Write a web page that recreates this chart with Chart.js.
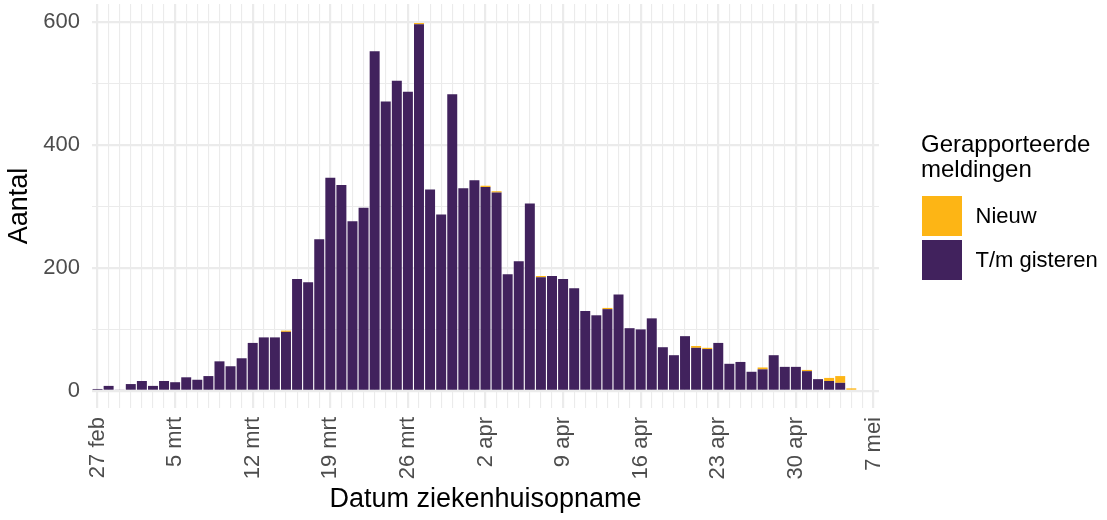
<!DOCTYPE html>
<html>
<head>
<meta charset="utf-8">
<script src="https://cdn.jsdelivr.net/npm/chart.js@4/dist/chart.umd.min.js"></script>
<style>
  body { margin: 0; background: #ffffff; }
  canvas { display: block; }
</style>
</head>
<body>
<canvas id="opnames" width="1107" height="520"></canvas>
<script>
// Dagen (27 feb t/m 7 mei)
var dagen = [
  "27 feb", "28 feb", "29 feb",
  "1 mrt", "2 mrt", "3 mrt", "4 mrt", "5 mrt", "6 mrt", "7 mrt", "8 mrt", "9 mrt", "10 mrt",
  "11 mrt", "12 mrt", "13 mrt", "14 mrt", "15 mrt", "16 mrt", "17 mrt", "18 mrt", "19 mrt", "20 mrt",
  "21 mrt", "22 mrt", "23 mrt", "24 mrt", "25 mrt", "26 mrt", "27 mrt", "28 mrt", "29 mrt", "30 mrt", "31 mrt",
  "1 apr", "2 apr", "3 apr", "4 apr", "5 apr", "6 apr", "7 apr", "8 apr", "9 apr", "10 apr",
  "11 apr", "12 apr", "13 apr", "14 apr", "15 apr", "16 apr", "17 apr", "18 apr", "19 apr", "20 apr",
  "21 apr", "22 apr", "23 apr", "24 apr", "25 apr", "26 apr", "27 apr", "28 apr", "29 apr", "30 apr",
  "1 mei", "2 mei", "3 mei", "4 mei", "5 mei", "6 mei", "7 mei"
];

// T/m gisteren gemelde opnames per dag
var tmGisteren = [
  3, 8, 2, 11, 16, 8, 16, 14, 22, 18,
  24, 48, 40, 53, 78, 87, 87, 96, 182, 177,
  247, 347, 335, 276, 298, 553, 471, 505, 487, 597,
  328, 287, 483, 330, 343, 332, 323, 190, 211, 305,
  185, 187, 182, 167, 130, 123, 133, 157, 102, 100,
  118, 71, 58, 89, 70, 68, 78, 44, 47, 31,
  35, 58, 39, 39, 32, 19, 16, 13, 0, null, null
];

// Nieuw gemelde opnames per dag
var nieuw = [
  0, 0, 0, 0, 0, 0, 0, 0, 0, 0,
  0, 0, 0, 0, 0, 0, 0, 2, 0, 0,
  0, 0, 0, 0, 0, 0, 0, 0, 0, 2,
  0, 0, 0, 0, 0, 2, 2, 0, 0, 0,
  2, 0, 0, 0, 0, 0, 2, 0, 0, 0,
  0, 0, 0, 0, 3, 2, 0, 0, 0, 0,
  3, 0, 0, 0, 2, 0, 5, 11, 4, null, null
];

var tickLabels = ["27 feb", "5 mrt", "12 mrt", "19 mrt", "26 mrt", "2 apr", "9 apr", "16 apr", "23 apr", "30 apr", "7 mei"];
var yGrid = [0, 100, 200, 300, 400, 500, 600];
var yLabels = [0, 200, 400, 600];

var paars = "#41225D";
var oranje = "#FDB515";
var gridKleur = "#EBEBEB";
var font = '"Liberation Sans", Arial, sans-serif';

// legenda rechts, zelf getekend
var legendaPlugin = {
  id: "legenda",
  afterDraw: function (chart) {
    var ctx = chart.ctx;
    ctx.save();
    ctx.fillStyle = "#000000";
    ctx.textBaseline = "alphabetic";
    ctx.textAlign = "left";
    ctx.font = "24px " + font;
    ctx.fillText("Gerapporteerde", 921, 152);
    ctx.fillText("meldingen", 921, 176.5);
    ctx.fillStyle = oranje;
    ctx.fillRect(922, 196, 40, 40);
    ctx.fillStyle = paars;
    ctx.fillRect(922, 240, 40, 40);
    ctx.fillStyle = "#000000";
    ctx.font = "22px " + font;
    ctx.fillText("Nieuw", 975.5, 223);
    ctx.fillText("T/m gisteren", 975.5, 267);
    ctx.restore();
  }
};

var chart = new Chart(document.getElementById("opnames"), {
  type: "bar",
  data: {
    labels: dagen,
    datasets: [
      {
        label: "T/m gisteren",
        data: tmGisteren,
        backgroundColor: paars,
        borderWidth: 0,
        categoryPercentage: 1,
        barPercentage: 0.9
      },
      {
        label: "Nieuw",
        data: nieuw,
        backgroundColor: oranje,
        borderWidth: 0,
        categoryPercentage: 1,
        barPercentage: 0.9
      }
    ]
  },
  options: {
    responsive: false,
    devicePixelRatio: 1,
    animation: false,
    layout: { padding: { top: 4, right: 228, bottom: 0, left: 0 } },
    plugins: {
      legend: { display: false },
      tooltip: { enabled: false }
    },
    scales: {
      x: {
        stacked: true,
        offset: true,
        border: { display: false },
        grid: {
          offset: false,
          drawTicks: false,
          color: gridKleur,
          lineWidth: function (c) {
            return tickLabels.indexOf(dagen[c.index]) >= 0 ? 2.2 : 1.1;
          }
        },
        ticks: {
          autoSkip: false,
          minRotation: 90,
          maxRotation: 90,
          padding: 9,
          color: "#4D4D4D",
          font: { family: font, size: 22 },
          callback: function (v, i) {
            return tickLabels.indexOf(dagen[i]) >= 0 ? dagen[i] : "";
          }
        },
        title: {
          display: true,
          text: "Datum ziekenhuisopname",
          color: "#000000",
          font: { family: font, size: 27, lineHeight: 1.2 },
          padding: { top: 0, bottom: 4 }
        },
        afterFit: function (s) {
          s.height = 112;
          s.paddingLeft = 0;
          s.paddingRight = 0;
        }
      },
      y: {
        stacked: true,
        min: -28,
        max: 630,
        border: { display: false },
        grid: {
          drawTicks: false,
          color: gridKleur,
          lineWidth: function (c) {
            return c.tick && yLabels.indexOf(c.tick.value) >= 0 ? 2.2 : 1.1;
          }
        },
        afterBuildTicks: function (s) {
          s.ticks = yGrid.map(function (v) { return { value: v }; });
        },
        ticks: {
          padding: 12,
          color: "#4D4D4D",
          font: { family: font, size: 22 },
          callback: function (v) {
            return yLabels.indexOf(v) >= 0 ? String(v) : "";
          }
        },
        title: {
          display: true,
          text: "Aantal",
          color: "#000000",
          font: { family: font, size: 27, lineHeight: 1.2 },
          padding: { top: 3, bottom: 0 }
        },
        afterFit: function (s) {
          s.width = 92;
          s.paddingTop = 0;
          s.paddingBottom = 0;
        }
      }
    }
  },
  plugins: [legendaPlugin]
});
</script>
</body>
</html>
